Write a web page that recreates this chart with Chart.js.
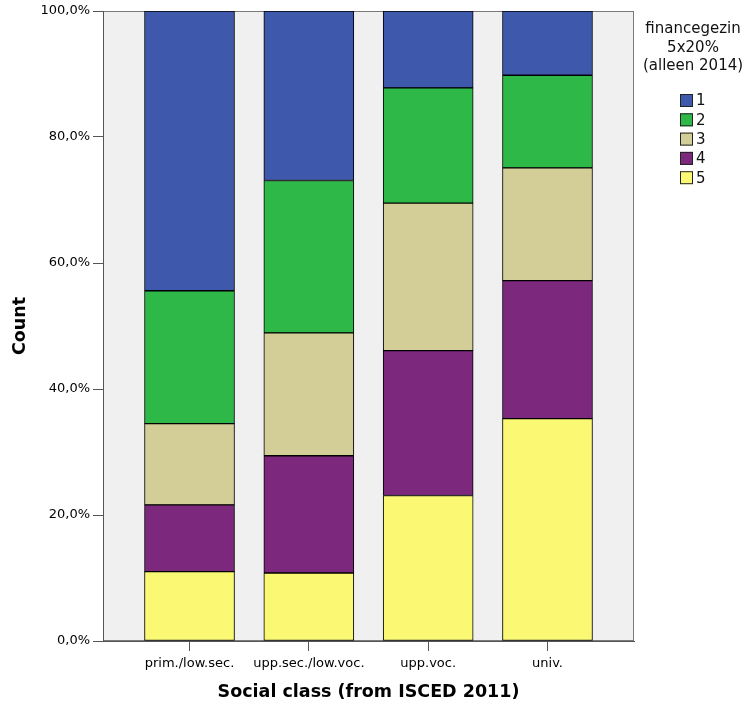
<!DOCTYPE html>
<html>
<head>
<meta charset="utf-8">
<script src="https://cdn.jsdelivr.net/npm/chart.js@4.4.0/dist/chart.umd.min.js"></script>
<style>
  html, body { margin: 0; padding: 0; background: #fff; }
  #wrap { width: 746px; height: 711px; }
</style>
</head>
<body>
<div id="wrap"><canvas id="financeChart" width="746" height="711"></canvas></div>
<script>
// categories on the x axis
const classes = ["prim./low.sec.", "upp.sec./low.voc.", "upp.voc.", "univ."];
// quintile groups (legend)
const groups = ["1", "2", "3", "4", "5"];
// share (%) of each quintile within each class
const pct1 = [44.4, 26.9, 12.2, 10.2];
const pct2 = [21.1, 24.2, 18.3, 14.7];
const pct3 = [12.9, 19.5, 23.4, 17.9];
const pct4 = [10.6, 18.6, 23.0, 21.9];
const pct5 = [11.0, 10.8, 23.1, 35.3];
const yTicks = [0, 20, 40, 60, 80, 100];
const legendTitle = ["financegezin", "5x20%", "(alleen 2014)"];

const groupValues = [pct1, pct2, pct3, pct4, pct5];
const groupColors = ["#3e58ac", "#2eb848", "#d3ce97", "#7c287d", "#fbf873"];

const tickFont = { family: "DejaVu Sans", size: 13 };
const titleFont = { family: "DejaVu Sans", size: 17.5, weight: "bold" };

// grey plot frame like SPSS
const plotBackground = {
  id: "plotBackground",
  beforeDraw(chart) {
    const { ctx, chartArea: a } = chart;
    ctx.save();
    ctx.fillStyle = "#f0f0f0";
    ctx.fillRect(a.left, a.top, a.right - a.left, a.bottom - a.top);
    ctx.strokeStyle = "#7a7a7a";
    ctx.lineWidth = 1;
    ctx.strokeRect(a.left + 0.5, a.top + 0.5, a.right - a.left - 1, a.bottom - a.top - 1);
    ctx.restore();
  },
};

// legend on the right with a three line title
const sideLegend = {
  id: "sideLegend",
  afterDraw(chart) {
    const ctx = chart.ctx;
    ctx.save();
    ctx.fillStyle = "#111";
    ctx.font = "15px 'DejaVu Sans'";
    ctx.textAlign = "center";
    ctx.textBaseline = "alphabetic";
    legendTitle.forEach((t, i) => ctx.fillText(t, 693, 33 + i * 18.7));
    ctx.textAlign = "left";
    ctx.textBaseline = "middle";
    groups.forEach((g, k) => {
      const top = 94 + k * 19.3;
      ctx.fillStyle = groupColors[k];
      ctx.fillRect(680, top, 13, 13);
      ctx.strokeStyle = "#222";
      ctx.strokeRect(680.5, top + 0.5, 12, 12);
      ctx.fillStyle = "#111";
      ctx.fillText(g, 696, top + 7.5);
    });
    ctx.restore();
  },
};

const datasets = groups
  .map((g, k) => ({
    label: g,
    data: groupValues[k].map((v, i) => ({ x: i, y: v })),
    backgroundColor: groupColors[k],
    borderColor: "#000",
    borderWidth: 1,
    borderSkipped: false,
    barThickness: 90,
  }))
  .reverse(); // group 5 sits at the bottom of each stack

const ctx = document.getElementById("financeChart").getContext("2d");
const financeChart = new Chart(ctx, {
  type: "bar",
  data: { datasets: datasets },
  plugins: [plotBackground, sideLegend],
  options: {
    responsive: false,
    animation: false,
    devicePixelRatio: 1,
    layout: { padding: { top: 11, right: 112, bottom: 0, left: 0 } },
    plugins: {
      legend: { display: false },
      tooltip: { enabled: false },
    },
    scales: {
      x: {
        type: "linear",
        stacked: true,
        offset: false,
        min: -0.725,
        max: 3.725,
        afterBuildTicks: (s) => {
          s.ticks = classes.map((c, i) => ({ value: i }));
        },
        afterFit: (s) => {
          s.height = 70;
        },
        ticks: {
          callback: (v) => classes[v],
          font: tickFont,
          color: "#000",
          padding: 5,
          maxRotation: 0,
          autoSkip: false,
        },
        grid: { offset: false, drawOnChartArea: false, drawTicks: true, tickLength: 10, color: "#555" },
        border: { color: "#555" },
        title: {
          display: true,
          text: "Social class (from ISCED 2011)",
          font: titleFont,
          color: "#000",
          padding: { top: 0, bottom: 8 },
        },
      },
      y: {
        stacked: true,
        min: 0,
        max: 100,
        afterBuildTicks: (s) => {
          s.ticks = yTicks.map((v) => ({ value: v }));
        },
        afterFit: (s) => {
          s.width = 103;
        },
        ticks: {
          callback: (v) => v.toFixed(1).replace(".", ",") + "%",
          font: tickFont,
          color: "#000",
          padding: 3,
        },
        grid: { drawOnChartArea: false, drawTicks: true, tickLength: 10, color: "#555" },
        border: { color: "#555" },
        title: {
          display: true,
          text: "Count",
          font: titleFont,
          color: "#000",
          padding: { top: 10, bottom: 0 },
        },
      },
    },
  },
});
</script>
</body>
</html>
